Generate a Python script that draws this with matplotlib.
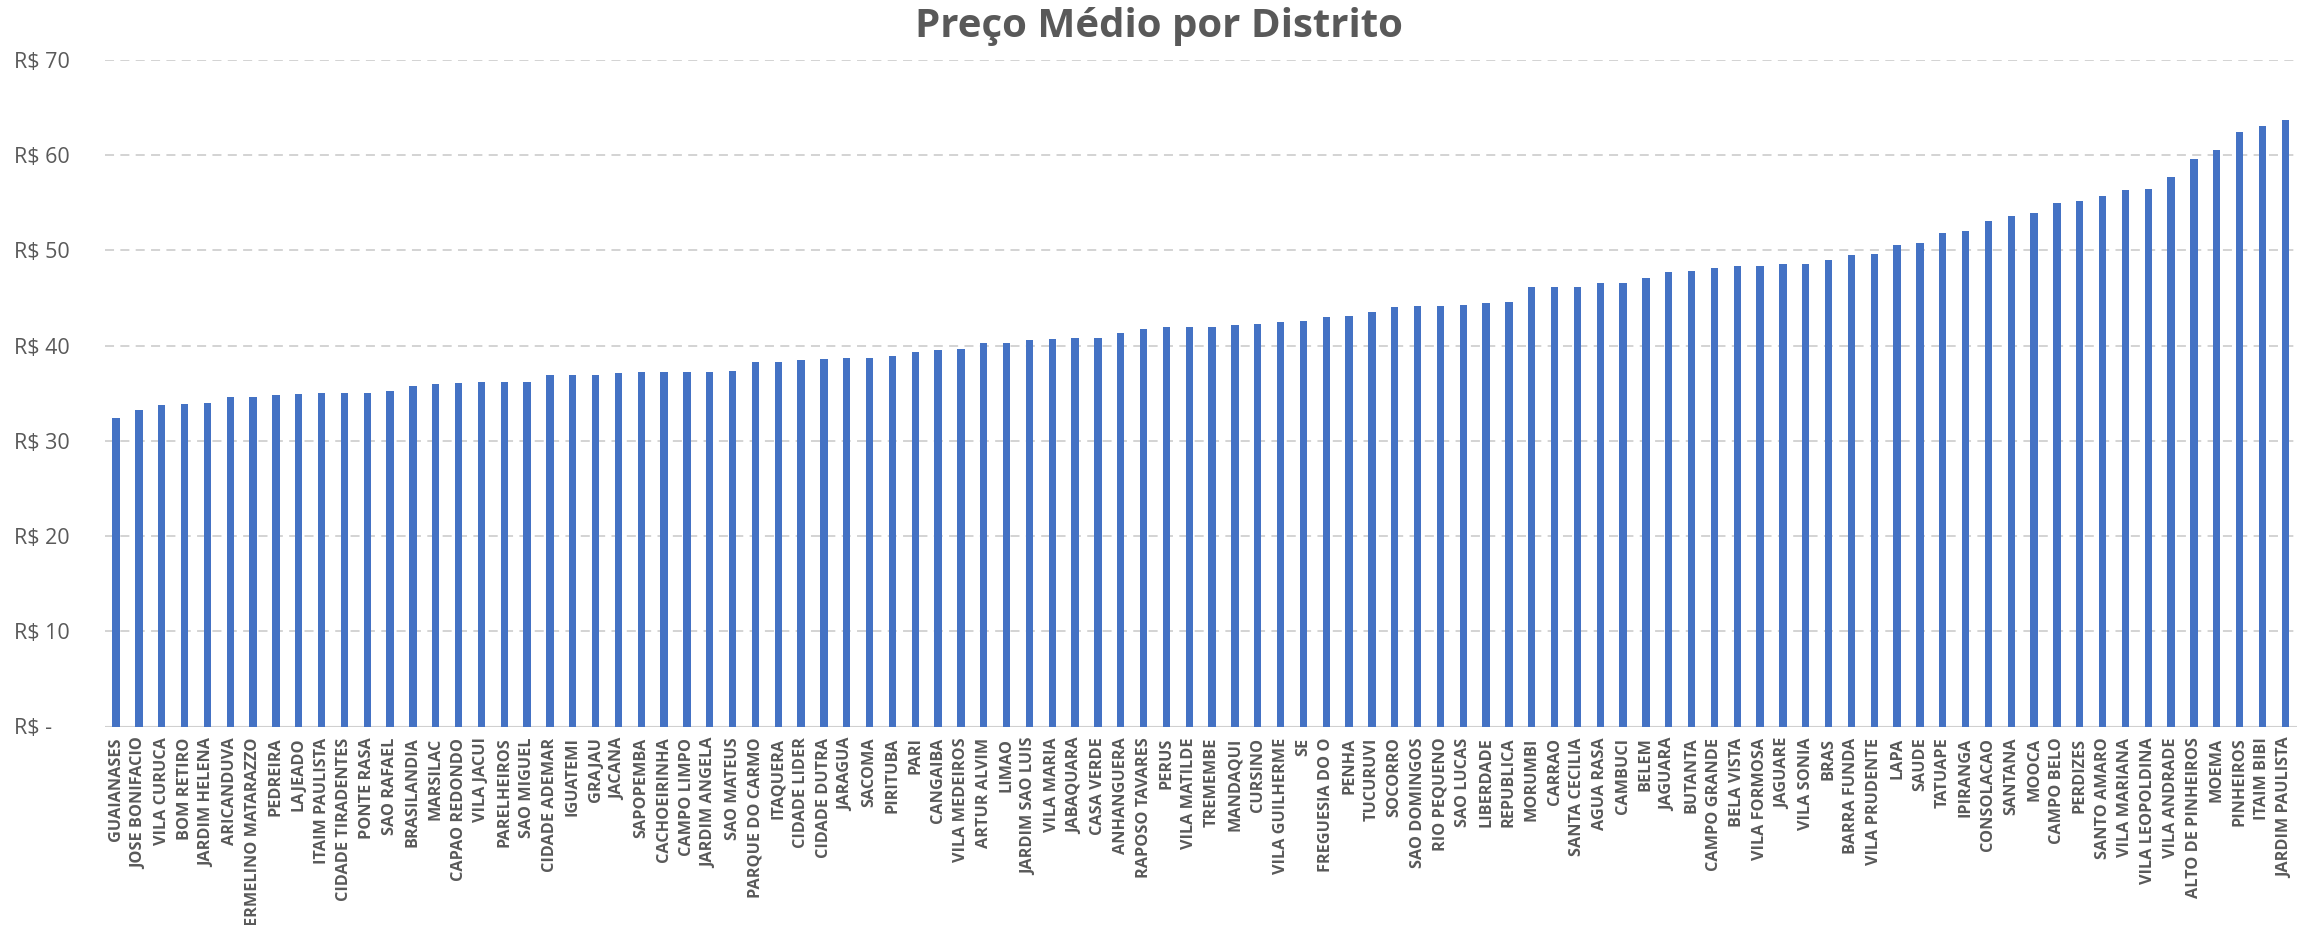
import matplotlib
matplotlib.use("Agg")
import matplotlib.pyplot as plt
from matplotlib.ticker import FixedLocator, FuncFormatter

districts = [
    "GUAIANASES", "JOSE BONIFACIO", "VILA CURUCA", "BOM RETIRO", "JARDIM HELENA",
    "ARICANDUVA", "ERMELINO MATARAZZO", "PEDREIRA", "LAJEADO", "ITAIM PAULISTA",
    "CIDADE TIRADENTES", "PONTE RASA", "SAO RAFAEL", "BRASILANDIA", "MARSILAC",
    "CAPAO REDONDO", "VILA JACUI", "PARELHEIROS", "SAO MIGUEL", "CIDADE ADEMAR",
    "IGUATEMI", "GRAJAU", "JACANA", "SAPOPEMBA", "CACHOEIRINHA", "CAMPO LIMPO",
    "JARDIM ANGELA", "SAO MATEUS", "PARQUE DO CARMO", "ITAQUERA", "CIDADE LIDER",
    "CIDADE DUTRA", "JARAGUA", "SACOMA", "PIRITUBA", "PARI", "CANGAIBA",
    "VILA MEDEIROS", "ARTUR ALVIM", "LIMAO", "JARDIM SAO LUIS", "VILA MARIA",
    "JABAQUARA", "CASA VERDE", "ANHANGUERA", "RAPOSO TAVARES", "PERUS",
    "VILA MATILDE", "TREMEMBE", "MANDAQUI", "CURSINO", "VILA GUILHERME", "SE",
    "FREGUESIA DO O", "PENHA", "TUCURUVI", "SOCORRO", "SAO DOMINGOS",
    "RIO PEQUENO", "SAO LUCAS", "LIBERDADE", "REPUBLICA", "MORUMBI", "CARRAO",
    "SANTA CECILIA", "AGUA RASA", "CAMBUCI", "BELEM", "JAGUARA", "BUTANTA",
    "CAMPO GRANDE", "BELA VISTA", "VILA FORMOSA", "JAGUARE", "VILA SONIA",
    "BRAS", "BARRA FUNDA", "VILA PRUDENTE", "LAPA", "SAUDE", "TATUAPE",
    "IPIRANGA", "CONSOLACAO", "SANTANA", "MOOCA", "CAMPO BELO", "PERDIZES",
    "SANTO AMARO", "VILA MARIANA", "VILA LEOPOLDINA", "VILA ANDRADE",
    "ALTO DE PINHEIROS", "MOEMA", "PINHEIROS", "ITAIM BIBI", "JARDIM PAULISTA",
]

prices = [
    32.45, 33.29, 33.81, 33.92, 34.02, 34.65, 34.65, 34.86, 34.93, 35.03,
    35.07, 35.07, 35.28, 35.77, 35.98, 36.12, 36.15, 36.19, 36.22, 36.89,
    36.96, 36.96, 37.16, 37.27, 37.27, 37.27, 37.27, 37.34, 38.23, 38.30,
    38.48, 38.55, 38.65, 38.72, 38.94, 39.33, 39.50, 39.61, 40.25, 40.25,
    40.64, 40.67, 40.82, 40.85, 41.38, 41.75, 41.96, 41.96, 42.00, 42.18,
    42.28, 42.46, 42.56, 43.02, 43.12, 43.58, 44.07, 44.18, 44.21, 44.25,
    44.49, 44.60, 46.14, 46.14, 46.18, 46.53, 46.56, 47.13, 47.69, 47.87,
    48.18, 48.36, 48.36, 48.57, 48.60, 48.95, 49.51, 49.62, 50.56, 50.80,
    51.85, 52.06, 53.04, 53.60, 53.95, 55.00, 55.24, 55.70, 56.33, 56.47,
    57.76, 59.58, 60.56, 62.41, 63.04, 63.74,
]

y_ticks = [0, 10, 20, 30, 40, 50, 60, 70]
title = "Preço Médio por Distrito"

TXT = "#595959"
BAR = "#4472C4"
GRID = "#D0D0D0"
FONT = ["Open Sans", "DejaVu Sans"]

fig = plt.figure(figsize=(23.18, 9.25), dpi=100)
ax = fig.add_axes([104.6 / 2318, 1 - 726.5 / 925, (2296.6 - 104.6) / 2318, (726.5 - 60) / 925])

x = list(range(len(districts)))
ax.bar(x, prices, width=0.32, color=BAR, zorder=3)

ax.set_xlim(-0.5, len(districts) - 0.5)
ax.set_ylim(0, 70)

ax.yaxis.set_major_locator(FixedLocator(y_ticks))
ax.yaxis.set_major_formatter(FuncFormatter(lambda v, p: "R$ -" if v == 0 else f"R$ {v:.0f}"))
for v in y_ticks[1:]:
    ax.axhline(v, color=GRID, lw=1.3, ls=(0, (5, 3.5)), zorder=1)
ax.axhline(0, color=GRID, lw=1.5, zorder=2)

for s in ax.spines.values():
    s.set_visible(False)

ax.set_xticks(x)
ax.set_xticklabels(districts, rotation=90, ha="center", va="top",
                   fontsize=11.7, fontweight="bold", color=TXT, family=FONT)
ax.tick_params(axis="x", length=0, pad=8)
ax.tick_params(axis="y", length=0, pad=65, labelsize=15.5, labelcolor=TXT)
for lab in ax.get_yticklabels():
    lab.set_ha("left")
    lab.set_family(FONT)

fig.text(0.5, 1 - 27 / 925, title, ha="center", va="center",
         fontsize=29, fontweight="bold", color=TXT, family=FONT)

fig.savefig("out.png", dpi=100, facecolor="white")
